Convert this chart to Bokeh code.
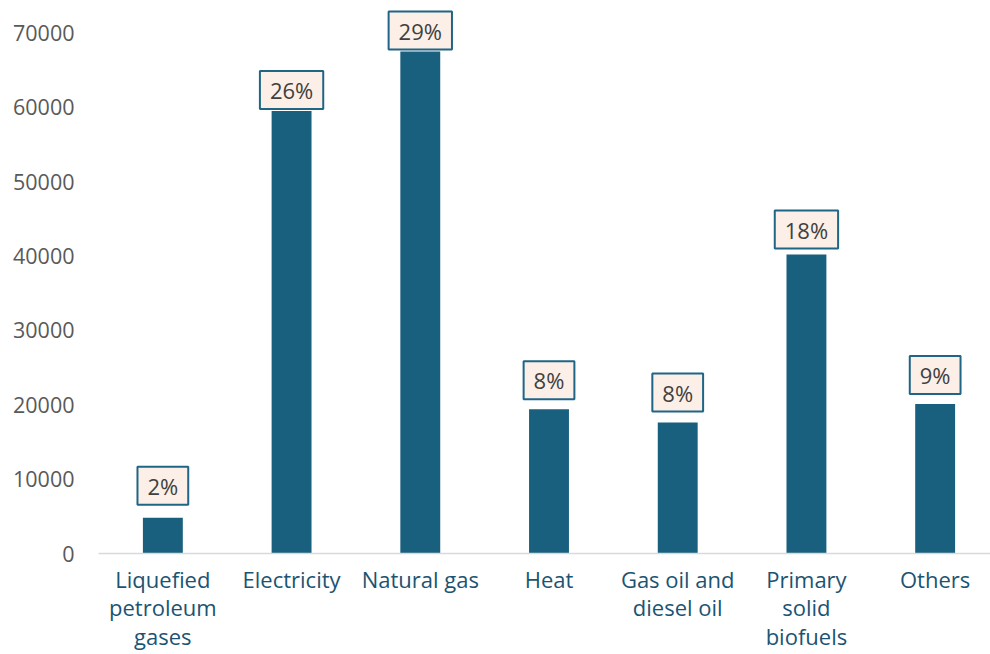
from bokeh.plotting import figure
from bokeh.models import Range1d, FixedTicker, Label, NumeralTickFormatter
from bokeh.embed import file_html
from bokeh.resources import INLINE

# Final energy consumption by carrier
categories = [
    "Liquefied\npetroleum\ngases",
    "Electricity",
    "Natural gas",
    "Heat",
    "Gas oil and\ndiesel oil",
    "Primary\nsolid\nbiofuels",
    "Others",
]
values = [4800, 59500, 67500, 19400, 17600, 40200, 20100]
y_ticks = [0, 10000, 20000, 30000, 40000, 50000, 60000, 70000]

# pixel gap between each bar top and its share label
label_gap_px = [13, 2, 2, 10, 11, 6, 10]

total = sum(values)
shares = [f"{round(v / total * 100)}%" for v in values]
xs = list(range(len(categories)))

FONT = "Open Sans"
BAR = "#19607f"

p = figure(
    width=990, height=654,
    x_range=Range1d(-0.5, 6.43), y_range=Range1d(0, 74360),
    output_backend="svg", toolbar_location=None,
    min_border_left=98, min_border_right=0, min_border_top=0, min_border_bottom=100,
)
p.outline_line_color = None
p.xgrid.visible = False
p.ygrid.visible = False

p.vbar(x=xs, top=values, width=0.31, bottom=0, fill_color=BAR, line_color=None)

# category axis
p.xaxis.ticker = FixedTicker(ticks=xs)
p.xaxis.major_label_overrides = {i: c for i, c in enumerate(categories)}
p.xaxis.major_tick_line_color = None
p.xaxis.minor_tick_line_color = None
p.xaxis.axis_line_color = "#d9d9d9"
p.xaxis.axis_line_width = 1.5
p.xaxis.major_label_standoff = 4
p.xaxis.major_label_text_font = FONT
p.xaxis.major_label_text_font_size = "22px"
p.xaxis.major_label_text_color = "#1b5472"
p.xaxis.major_label_text_line_height = 0.96

# value axis
p.yaxis.ticker = FixedTicker(ticks=y_ticks)
p.yaxis.formatter = NumeralTickFormatter(format="0")
p.yaxis.axis_line_color = None
p.yaxis.major_tick_line_color = None
p.yaxis.minor_tick_line_color = None
p.yaxis.major_label_standoff = 18
p.yaxis.major_label_text_font = FONT
p.yaxis.major_label_text_font_size = "21.5px"
p.yaxis.major_label_text_color = "#595959"

# share labels in boxes above the bars
for x, v, s, g in zip(xs, values, shares, label_gap_px):
    p.add_layout(Label(
        x=x, y=v, text=s,
        text_align="center", text_baseline="middle",
        y_offset=g + 19,
        text_font=FONT, text_font_size="22px", text_color="#404040",
        background_fill_color="#fcefe7",
        border_line_color="#1f6586", border_line_width=2,
        padding=dict(left=10, right=10, top=4, bottom=4),
    ))

open("out.html", "w").write(file_html(p, INLINE))
